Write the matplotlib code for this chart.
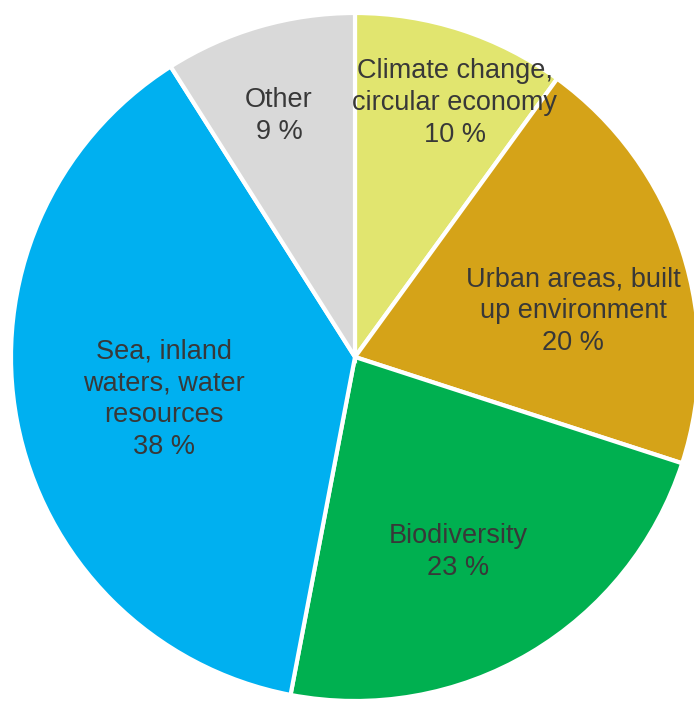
import matplotlib.pyplot as plt

# Données du graphique
categories = ["Climate change,\ncircular economy", "Urban areas, built\nup environment",
              "Biodiversity", "Sea, inland\nwaters, water\nresources", "Other"]
valeurs = [10, 20, 23, 38, 9]
couleurs = ['#E1E56F', '#D5A318', '#00B050', '#00B0F0', '#D9D9D9']

plt.rcParams['font.family'] = ['Liberation Sans', 'DejaVu Sans']

fig = plt.figure(figsize=(6.94, 7.01), dpi=100)
ax = fig.add_axes([0, 0, 1, 1])

cx, cy, r = 355, 701 - 357, 344
ax.pie(valeurs, colors=couleurs, startangle=90, counterclock=False,
       radius=r, center=(cx, cy), frame=True,
       wedgeprops=dict(edgecolor='white', linewidth=3))
ax.set_xlim(0, 694)
ax.set_ylim(0, 701)
ax.set_aspect('equal')
ax.axis('off')

# Positions des étiquettes (en pixels)
positions = [(455, 103), (573, 311), (458, 552), (164, 399), (279, 116)]
for cat, val, (x, y) in zip(categories, valeurs, positions):
    ax.text(x, 701 - y, f"{cat}\n{val} %", ha='center', va='center',
            fontsize=19.5, color='#383838', linespacing=1.3)

fig.savefig("out.png", dpi=100)
